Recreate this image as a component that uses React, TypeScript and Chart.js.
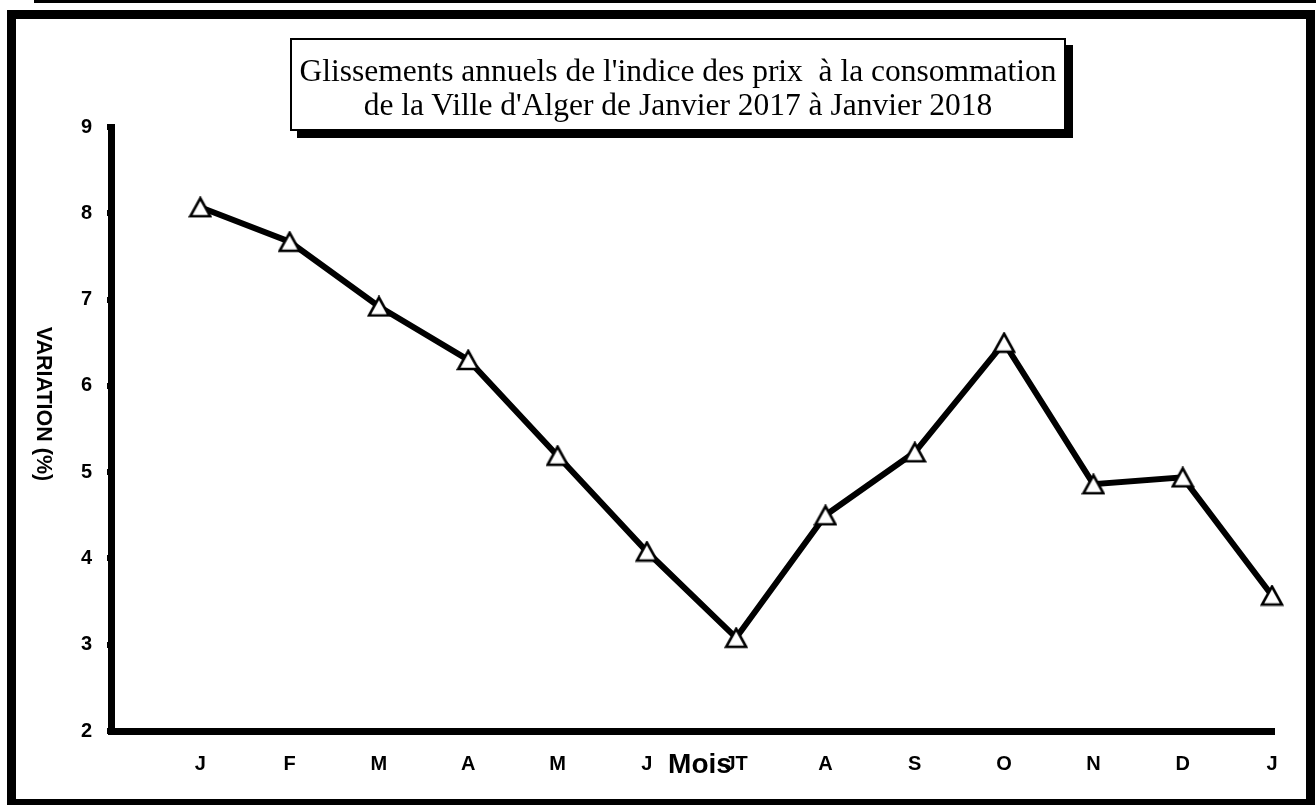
import { useEffect, useRef } from 'react';
import { Chart, registerables } from 'chart.js';

Chart.register(...registerables);

const months = ['J', 'F', 'M', 'A', 'M', 'J', 'JT', 'A', 'S', 'O', 'N', 'D', 'J'];
const glissement = [8.07, 7.67, 6.92, 6.3, 5.19, 4.08, 3.08, 4.5, 5.23, 6.5, 4.86, 4.94, 3.57];
const yTicks = [2, 3, 4, 5, 6, 7, 8, 9];
const titleLines = [
  "Glissements annuels de l'indice des prix  à la consommation",
  "de la Ville d'Alger de Janvier 2017 à Janvier 2018",
];
const xTitle = 'Mois';
const yTitle = 'VARIATION (%)';

const W = 1316;
const H = 805;
const sans = "'Liberation Sans', Arial, sans-serif";
const serif = "'Liberation Serif', 'Times New Roman', serif";

function makeTriangle(): HTMLCanvasElement {
  const c = document.createElement('canvas');
  c.width = 24;
  c.height = 22;
  const ctx = c.getContext('2d')!;
  ctx.beginPath();
  ctx.moveTo(12, 2);
  ctx.lineTo(22, 20);
  ctx.lineTo(2, 20);
  ctx.closePath();
  ctx.fillStyle = '#fff';
  ctx.fill();
  ctx.lineWidth = 2.6;
  ctx.lineJoin = 'miter';
  ctx.strokeStyle = '#000';
  ctx.stroke();
  return c;
}

export default function App() {
  const ref = useRef<HTMLCanvasElement | null>(null);

  useEffect(() => {
    if (!ref.current) return;
    const tri = makeTriangle();
    const tickFont = { family: sans, size: 20, weight: 'bold' as const };
    const chart = new Chart(ref.current, {
      type: 'line',
      data: {
        datasets: [
          {
            data: glissement.map((v, i) => ({ x: i, y: v })),
            borderColor: '#000',
            borderWidth: 6,
            tension: 0,
            fill: false,
            clip: false as any,
            pointStyle: tri as any,
            pointRadius: 11,
            pointHoverRadius: 11,
          },
        ],
      },
      options: {
        responsive: false,
        animation: false,
        events: [],
        layout: { padding: { left: 0, top: 127, right: 44, bottom: 14 } },
        plugins: {
          legend: { display: false },
          tooltip: { enabled: false },
          title: { display: false },
        },
        scales: {
          x: {
            type: 'linear',
            min: -1,
            max: months.length - 1,
            afterBuildTicks: (s: any) => {
              s.ticks = [{ value: -1 }, ...months.map((_, i) => ({ value: i }))];
            },
            afterFit: (s: any) => {
              s.height = 60;
            },
            ticks: {
              autoSkip: false,
              maxRotation: 0,
              padding: 17,
              color: '#000',
              font: tickFont,
              callback: (v: any) => (v >= 0 ? months[v] : ''),
            },
            grid: { drawOnChartArea: false, drawTicks: true, tickLength: 4, lineWidth: 6, color: '#000' },
            border: { display: true, width: 7, color: '#000' },
          },
          y: {
            type: 'linear',
            min: yTicks[0],
            max: yTicks[yTicks.length - 1],
            afterBuildTicks: (s: any) => {
              s.ticks = yTicks.map((v) => ({ value: v }));
            },
            afterFit: (s: any) => {
              s.width = 111;
            },
            ticks: {
              padding: 15,
              color: '#000',
              font: tickFont,
              callback: (v: any) => String(v),
            },
            grid: { drawOnChartArea: false, drawTicks: true, tickLength: 4, lineWidth: 6, color: '#000' },
            border: { display: true, width: 7, color: '#000' },
          },
        },
      },
    });
    return () => chart.destroy();
  }, []);

  return (
    <div style={{ position: 'fixed', left: 0, top: 0, width: W, height: H, background: '#fff', overflow: 'hidden' }}>
      <canvas ref={ref} width={W} height={H} style={{ position: 'absolute', left: 0, top: 0, width: W, height: H, display: 'block' }} />
      <div style={{ position: 'absolute', left: 34, top: 0, width: W - 34, height: 3, background: '#000' }} />
      <div
        style={{
          position: 'absolute',
          left: 7,
          top: 10,
          width: 1308,
          height: 798,
          border: '9px solid #000',
          boxSizing: 'border-box',
          pointerEvents: 'none',
        }}
      />
      <div
        style={{
          position: 'absolute',
          left: 290,
          top: 38,
          width: 776,
          height: 93,
          border: '2px solid #000',
          boxSizing: 'border-box',
          boxShadow: '7px 7px 0 #000',
          background: '#fff',
          fontFamily: serif,
          fontSize: 31.5,
          lineHeight: '34px',
          textAlign: 'center',
          paddingTop: 14,
          whiteSpace: 'pre',
          color: '#000',
        }}
      >
        {titleLines.map((l, i) => (
          <div key={i}>{l}</div>
        ))}
      </div>
      <div
        style={{
          position: 'absolute',
          left: 700 - 60,
          top: 764 - 16,
          width: 120,
          height: 32,
          lineHeight: '32px',
          textAlign: 'center',
          fontFamily: sans,
          fontWeight: 'bold',
          fontSize: 28,
          color: '#000',
        }}
      >
        {xTitle}
      </div>
      <div
        style={{
          position: 'absolute',
          left: 44 - 100,
          top: 404 - 14,
          width: 200,
          height: 28,
          lineHeight: '28px',
          textAlign: 'center',
          fontFamily: sans,
          fontWeight: 'bold',
          fontSize: 21.5,
          color: '#000',
          transform: 'rotate(90deg)',
          transformOrigin: '50% 50%',
          whiteSpace: 'pre',
        }}
      >
        {yTitle}
      </div>
    </div>
  );
}
